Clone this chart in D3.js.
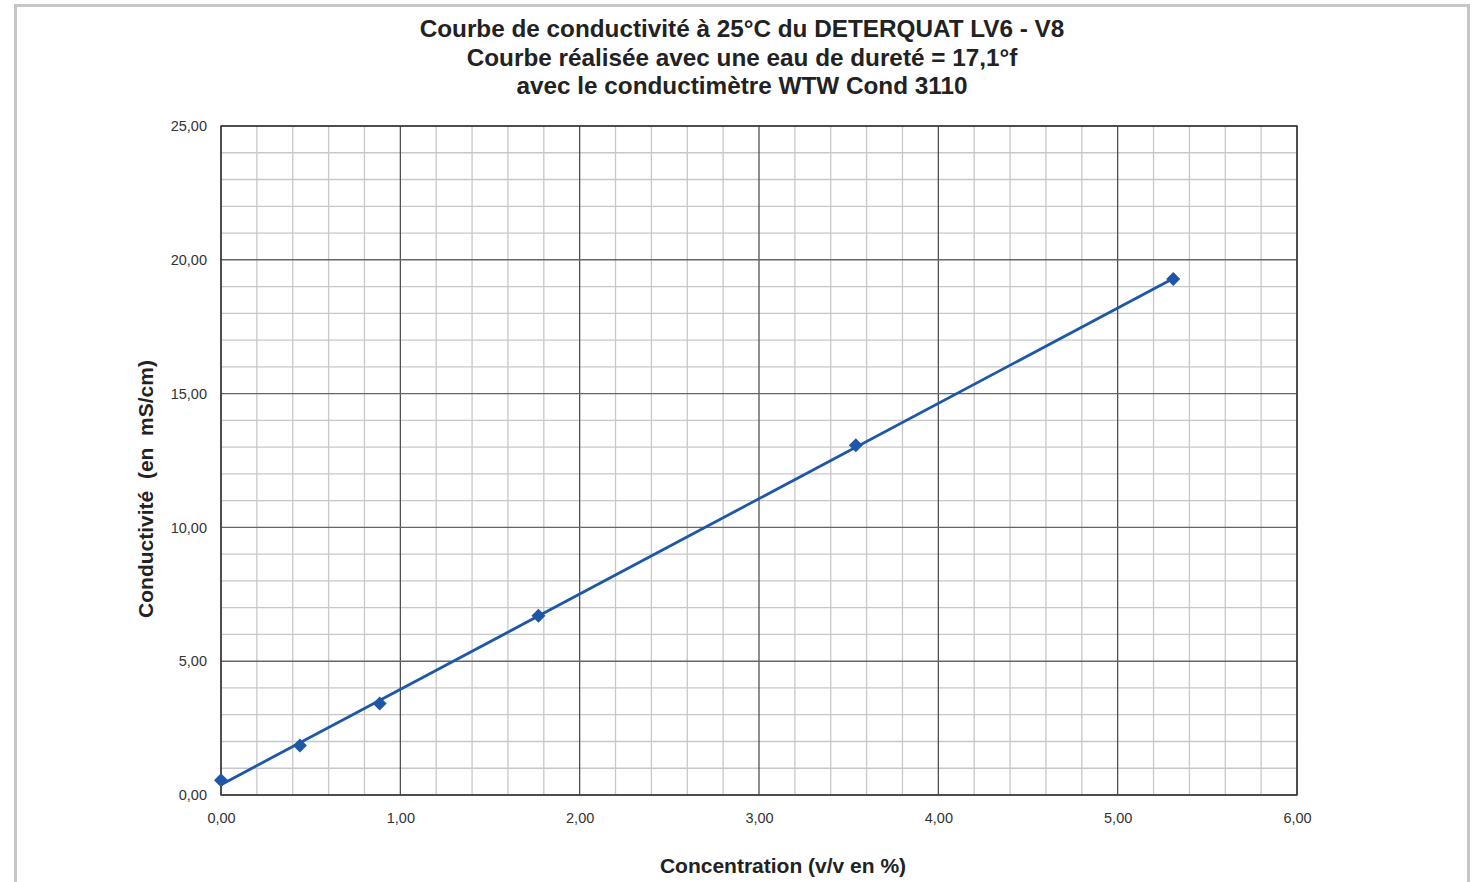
<!DOCTYPE html>
<html>
<head>
<meta charset="utf-8">
<script src="https://cdn.jsdelivr.net/npm/d3@7"></script>
<style>
  body { margin: 0; background: #fff; }
  text { font-family: "Liberation Sans", Arial, sans-serif; white-space: pre; }
</style>
</head>
<body>
<script>
// data
const concentration = [0, 0.44, 0.885, 1.77, 3.54, 5.31];
const conductivity = [0.55, 1.85, 3.42, 6.70, 13.07, 19.28];
const titleLines = [
  "Courbe de conductivité à 25°C du DETERQUAT LV6 - V8",
  "Courbe réalisée avec une eau de dureté = 17,1°f",
  "avec le conductimètre WTW Cond 3110"
];
const xTicks = [0, 1, 2, 3, 4, 5, 6];
const yTicks = [0, 5, 10, 15, 20, 25];

const W = 1474, H = 882;
let margin = {top: 126, right: 177, bottom: 87, left: 221}
  , width = W - margin.left - margin.right
  , height = H - margin.top - margin.bottom;

let xScale = d3.scaleLinear().domain([0, 6]).range([0, width]);
let yScale = d3.scaleLinear().domain([0, 25]).range([height, 0]);
const fmt = d => d.toFixed(2).replace(".", ",");

const svg = d3.select("body").append("svg")
  .attr("width", W)
  .attr("height", H);

// outer frame
svg.append("rect")
  .attr("x", 15.5).attr("y", 5.5)
  .attr("width", 1453).attr("height", 900)
  .attr("fill", "none")
  .attr("stroke", "#c6c6ca")
  .attr("stroke-width", 3);

// titles
svg.append("g").selectAll("text")
  .data(titleLines)
  .enter().append("text")
  .attr("x", 742)
  .attr("y", (d, i) => 37 + i * 28.5)
  .attr("text-anchor", "middle")
  .attr("font-size", 24.3)
  .attr("font-weight", "bold")
  .attr("fill", "#222")
  .text(d => d);

const g = svg.append("g")
  .attr("transform", "translate(" + margin.left + "," + margin.top + ")");

// minor grid
const xMinor = d3.range(0, 30).map(i => i * 0.2).filter(v => Math.abs(v - Math.round(v)) > 1e-6);
const yMinor = d3.range(0, 25).filter(v => v % 5 !== 0);

g.append("g").selectAll("line")
  .data(xMinor)
  .enter().append("line")
  .attr("x1", d => xScale(d)).attr("x2", d => xScale(d))
  .attr("y1", 0).attr("y2", height)
  .attr("stroke", "#c8c8c8").attr("stroke-width", 1.3);

g.append("g").selectAll("line")
  .data(yMinor)
  .enter().append("line")
  .attr("y1", d => yScale(d)).attr("y2", d => yScale(d))
  .attr("x1", 0).attr("x2", width)
  .attr("stroke", "#c8c8c8").attr("stroke-width", 1.3);

// major grid
g.append("g").selectAll("line")
  .data(xTicks)
  .enter().append("line")
  .attr("x1", d => xScale(d)).attr("x2", d => xScale(d))
  .attr("y1", 0).attr("y2", height)
  .attr("stroke", "#444").attr("stroke-width", 1.2);

g.append("g").selectAll("line")
  .data(yTicks)
  .enter().append("line")
  .attr("y1", d => yScale(d)).attr("y2", d => yScale(d))
  .attr("x1", 0).attr("x2", width)
  .attr("stroke", "#666").attr("stroke-width", 1.4);

// plot border
g.append("rect")
  .attr("width", width).attr("height", height)
  .attr("fill", "none").attr("stroke", "#333").attr("stroke-width", 1.4);

// axes labels
const xAxis = g.append("g")
  .attr("transform", "translate(0," + height + ")")
  .call(d3.axisBottom(xScale).tickValues(xTicks).tickFormat(fmt).tickSize(0).tickPadding(18));
const yAxis = g.append("g")
  .call(d3.axisLeft(yScale).tickValues(yTicks).tickFormat(fmt).tickSize(0).tickPadding(14));
[xAxis, yAxis].forEach(a => {
  a.select(".domain").remove();
  a.selectAll("text")
    .attr("font-family", "Liberation Sans, Arial, sans-serif")
    .attr("font-size", 14.5).attr("fill", "#333");
});

// axis titles
svg.append("text")
  .attr("x", 783).attr("y", 873)
  .attr("text-anchor", "middle")
  .attr("font-size", 21).attr("font-weight", "bold").attr("fill", "#222")
  .text("Concentration (v/v en %)");

svg.append("text")
  .attr("transform", "translate(153,489) rotate(-90)")
  .attr("text-anchor", "middle")
  .attr("font-size", 21).attr("font-weight", "bold").attr("fill", "#222")
  .text("Conductivité  (en  mS/cm)");

// linear trend line (least squares over the data)
const mx = d3.mean(concentration), my = d3.mean(conductivity);
const slope = d3.sum(concentration, (x, i) => (x - mx) * (conductivity[i] - my)) /
              d3.sum(concentration, x => (x - mx) * (x - mx));
const intercept = my - slope * mx;
const xExt = d3.extent(concentration);

g.append("line")
  .attr("x1", xScale(xExt[0])).attr("y1", yScale(intercept + slope * xExt[0]))
  .attr("x2", xScale(xExt[1])).attr("y2", yScale(intercept + slope * xExt[1]))
  .attr("stroke", "#1f57a8").attr("stroke-width", 2.8);

// diamond markers
g.selectAll(".dot")
  .data(concentration)
  .enter().append("path")
  .attr("class", "dot")
  .attr("transform", (d, i) => "translate(" + xScale(d) + "," + yScale(conductivity[i]) + ")")
  .attr("d", "M0,-7L7,0L0,7L-7,0Z")
  .attr("fill", "#1f57a8");
</script>
</body>
</html>
